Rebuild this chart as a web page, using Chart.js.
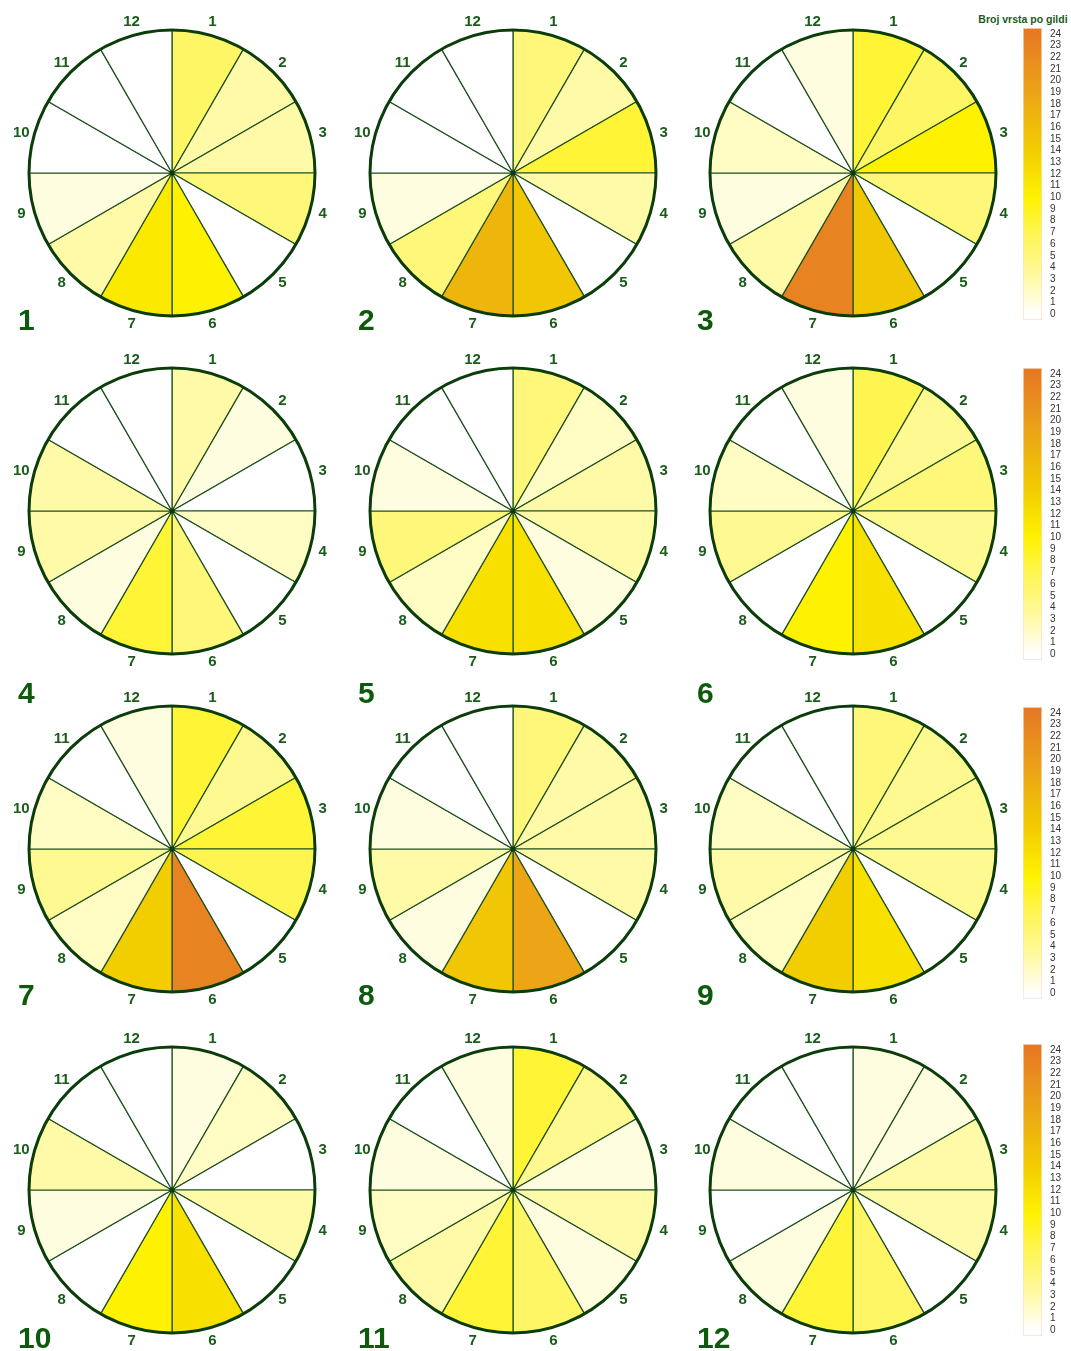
<!DOCTYPE html>
<html lang="hr">
<head>
  <meta charset="UTF-8">
  <title>Broj vrsta po gildi</title>
  <script src="https://cdn.jsdelivr.net/npm/chart.js"></script>
  <style>
    body {
      margin: 0;
      background: #fff;
      font-family: "Liberation Sans", Arial, sans-serif;
    }
    #wrap {
      position: relative;
      width: 1071px;
      height: 1351px;
      overflow: hidden;
    }
    canvas { position: absolute; }
    .num {
      position: absolute;
      font-weight: bold;
      font-size: 30px;
      line-height: 30px;
      color: #0d5a0d;
    }
    .cbtitle {
      position: absolute;
      left: 971px;
      width: 104px;
      top: 13px;
      text-align: center;
      font-weight: bold;
      font-size: 10.5px;
      line-height: 12px;
      color: #1a5c1a;
      white-space: nowrap;
    }
  </style>
</head>
<body>
  <div id="wrap">
    <div class="cbtitle">Broj vrsta po gildi</div>
  </div>

  <script>
    // sectors around each wheel
    const sectors = ['1', '2', '3', '4', '5', '6', '7', '8', '9', '10', '11', '12'];
    const panelNames = ['1', '2', '3', '4', '5', '6', '7', '8', '9', '10', '11', '12'];

    // values per sector (number of species), one array per panel
    const g1  = [6, 3, 3, 5, 0, 10, 11, 3, 1, 0, 0, 0];
    const g2  = [5, 3, 8, 3, 0, 15, 17, 5, 1, 0, 0, 0];
    const g3  = [8, 6, 10, 5, 0, 15, 23, 3, 1, 2, 0, 1];
    const g4  = [3, 1, 0, 2, 0, 5, 8, 1, 3, 3, 0, 0];
    const g5  = [5, 2, 3, 3, 1, 12, 12, 2, 5, 1, 0, 0];
    const g6  = [7, 4, 5, 4, 0, 12, 10, 0, 4, 2, 0, 1];
    const g7  = [8, 4, 8, 7, 0, 23, 14, 2, 4, 2, 0, 1];
    const g8  = [5, 3, 3, 3, 0, 19, 15, 1, 3, 1, 0, 0];
    const g9  = [5, 4, 4, 4, 0, 12, 14, 2, 3, 2, 0, 0];
    const g10 = [1, 2, 0, 3, 0, 12, 10, 0, 1, 3, 0, 0];
    const g11 = [8, 4, 1, 3, 1, 6, 8, 3, 2, 1, 0, 1];
    const g12 = [1, 1, 3, 3, 0, 6, 8, 1, 0, 1, 0, 0];
    const panels = [g1, g2, g3, g4, g5, g6, g7, g8, g9, g10, g11, g12];

    // colour scale ticks
    const scaleTicks = [0, 1, 2, 3, 4, 5, 6, 7, 8, 9, 10, 11, 12, 13, 14, 15, 16, 17, 18, 19, 20, 21, 22, 23, 24];

    // colour ramp: white -> yellow -> orange
    const ramp = [
      [0, '#ffffff'], [1, '#fffde0'], [3, '#fffaa8'], [5, '#fff77a'], [7, '#fff550'],
      [10, '#fff200'], [12, '#f8e000'], [14, '#f2cd00'], [16, '#efbe08'],
      [18, '#ecad12'], [20, '#ea9c1a'], [24, '#e67a22']
    ];

    const hexToRgb = h => [1, 3, 5].map(i => parseInt(h.slice(i, i + 2), 16));
    function colourFor(v) {
      if (v <= ramp[0][0]) return ramp[0][1];
      for (let i = 1; i < ramp.length; i++) {
        if (v <= ramp[i][0]) {
          const [v0, c0] = ramp[i - 1], [v1, c1] = ramp[i];
          const t = (v - v0) / (v1 - v0);
          const a = hexToRgb(c0), b = hexToRgb(c1);
          const rgb = a.map((x, k) => Math.round(x + (b[k] - x) * t));
          return `rgb(${rgb.join(',')})`;
        }
      }
      return ramp[ramp.length - 1][1];
    }

    const FONT = '"Liberation Sans", Arial, sans-serif';
    const GREEN = '#0b3d0b';

    // outer ring, hub dot and sector numbers
    const wheelDecor = {
      id: 'wheelDecor',
      afterDatasetsDraw(chart) {
        const ctx = chart.ctx;
        const arcs = chart.getDatasetMeta(0).data;
        const {x, y, outerRadius} = arcs[0].getProps(['x', 'y', 'outerRadius'], true);
        ctx.save();
        ctx.beginPath();
        ctx.arc(x, y, outerRadius, 0, Math.PI * 2);
        ctx.lineWidth = 3;
        ctx.strokeStyle = GREEN;
        ctx.stroke();
        ctx.beginPath();
        ctx.arc(x, y, 2.5, 0, Math.PI * 2);
        ctx.fillStyle = GREEN;
        ctx.fill();
        ctx.font = 'bold 15px ' + FONT;
        ctx.fillStyle = '#1a5c1a';
        ctx.textAlign = 'center';
        ctx.textBaseline = 'middle';
        arcs.forEach((a, i) => {
          const p = a.getProps(['startAngle', 'endAngle'], true);
          const mid = (p.startAngle + p.endAngle) / 2;
          const r = outerRadius + 13;
          ctx.fillText(chart.data.labels[i], x + Math.cos(mid) * r, y + Math.sin(mid) * r);
        });
        ctx.restore();
      }
    };

    const wrap = document.getElementById('wrap');
    const colCenters = [172, 513, 853];
    const rowCenters = [173, 511, 849, 1190];
    const numLeft = [18, 358, 697];
    const numTop = [305, 678, 980, 1323];

    panels.forEach((vals, i) => {
      const col = i % 3, row = Math.floor(i / 3);
      const cv = document.createElement('canvas');
      cv.width = 340; cv.height = 340;
      cv.style.left = (colCenters[col] - 170) + 'px';
      cv.style.top = (rowCenters[row] - 170) + 'px';
      wrap.appendChild(cv);

      new Chart(cv, {
        type: 'pie',
        data: {
          labels: sectors,
          datasets: [{
            data: vals.map(() => 1),
            backgroundColor: vals.map(colourFor),
            borderColor: '#1f4f1f',
            borderWidth: 1.2
          }]
        },
        options: {
          responsive: false,
          animation: false,
          radius: 143,
          plugins: { legend: { display: false }, tooltip: { enabled: false } }
        },
        plugins: [wheelDecor]
      });

      const lab = document.createElement('div');
      lab.className = 'num';
      lab.textContent = panelNames[i];
      lab.style.left = numLeft[col] + 'px';
      lab.style.top = numTop[row] + 'px';
      wrap.appendChild(lab);
    });

    // colour bars, one per row
    const barCenters = [174, 514, 853, 1190];
    barCenters.forEach(cy => {
      const cv = document.createElement('canvas');
      cv.width = 71; cv.height = 320;
      cv.style.left = '1000px';
      cv.style.top = (cy - 160) + 'px';
      wrap.appendChild(cv);

      const lo = scaleTicks[0] - 0.5, hi = scaleTicks[scaleTicks.length - 1] + 0.5;
      new Chart(cv, {
        type: 'bar',
        data: {
          labels: [''],
          datasets: [{
            data: [[lo, hi]],
            backgroundColor: c => {
              const ch = c.chart, ys = ch.scales.y;
              if (!ch.chartArea || !ys) return '#fff200';
              const top = ys.getPixelForValue(hi), bot = ys.getPixelForValue(lo);
              const g = ch.ctx.createLinearGradient(0, bot, 0, top);
              ramp.forEach(([v, col]) => {
                g.addColorStop((ys.getPixelForValue(v) - bot) / (top - bot), col);
              });
              g.addColorStop(1, ramp[ramp.length - 1][1]);
              return g;
            },
            borderColor: 'rgba(230,150,90,0.3)',
            borderWidth: 1,
            borderSkipped: false,
            barPercentage: 1,
            categoryPercentage: 1
          }]
        },
        options: {
          responsive: false,
          animation: false,
          layout: { padding: { top: 13, bottom: 13, left: 23, right: 0 } },
          plugins: { legend: { display: false }, tooltip: { enabled: false } },
          scales: {
            x: { display: false },
            y: {
              position: 'right',
              min: lo,
              max: hi,
              grid: { display: false, drawTicks: false },
              border: { display: false },
              afterBuildTicks: ax => { ax.ticks = scaleTicks.map(v => ({ value: v })); },
              afterFit: ax => { ax.width = 29; },
              ticks: {
                autoSkip: false,
                padding: 8,
                color: '#333',
                font: { size: 10, family: FONT }
              }
            }
          }
        }
      });
    });
  </script>
</body>
</html>
